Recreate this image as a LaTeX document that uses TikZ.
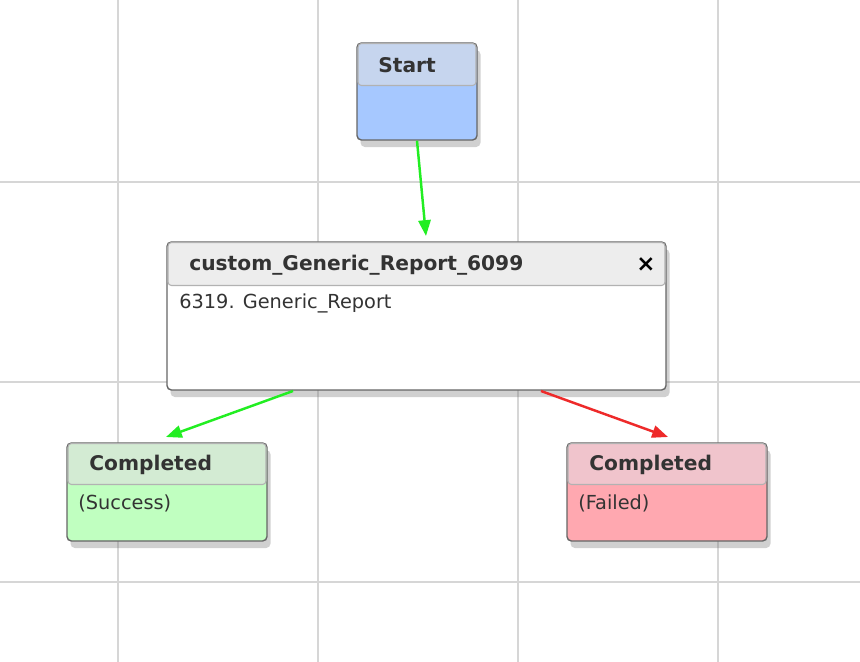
\documentclass[tikz,border=0pt]{standalone}
\usepackage{fontspec}
\setmainfont{DejaVu Sans}
\usetikzlibrary{shadows,positioning,arrows.meta}
\definecolor{gridgray}{HTML}{D6D6D6}
\definecolor{startHd}{HTML}{C6D5EE}
\definecolor{startBd}{HTML}{A6C8FF}
\definecolor{taskHd}{HTML}{EDEDED}
\definecolor{okHd}{HTML}{D3EBD3}
\definecolor{okBd}{HTML}{C0FFC0}
\definecolor{badHd}{HTML}{F0C4CC}
\definecolor{badBd}{HTML}{FFA8B0}
\definecolor{okArrow}{HTML}{22EE22}
\definecolor{badArrow}{HTML}{EE2A2A}
\begin{document}
\begin{tikzpicture}[x=0.02cm,y=-0.02cm,font=\fontsize{11pt}{12pt}\selectfont]
		\tikzset{
			Body/.style	= {draw=gray!80!black, line width=0.8pt, rounded corners=2.5pt, inner sep=0pt,
			               drop shadow={shadow xshift=2pt, shadow yshift=-4pt, opacity=0.3, fill=black!60}},
			Head/.style	= {draw=gray!60, line width=0.6pt, inner sep=0pt, anchor=north, rounded corners=2pt},
			Title/.style	= {anchor=west, inner sep=0pt, font=\fontsize{11.5pt}{12pt}\selectfont\bfseries, text=black!80},
			Label/.style	= {anchor=west, inner sep=0pt, text=black!80},
			Link/.style	= {line width=1.4pt, -{Triangle[length=9pt,width=7pt]}}
		}
		\useasboundingbox (0,0) rectangle (860,662);
		\fill[white] (0,0) rectangle (860,662);
		% grid
		\foreach \gx in {118,318,518,718}
			\draw[gridgray, line width=0.8pt] (\gx,0) -- (\gx,662);
		\foreach \gy in {182,382,582}
			\draw[gridgray, line width=0.8pt] (0,\gy) -- (860,\gy);

		% boxes
		\node (start) at (417,91.5) [Body, fill=startBd, minimum width=120*0.02cm, minimum height=97*0.02cm] {};
		\node (startHead) at ([yshift=-0.4pt]start.north) [Head, fill=startHd, minimum width=118*0.02cm, minimum height=42*0.02cm] {};
		\node at (378,65) [Title] {Start};

		\node (task) at (416.5,316) [Body, fill=white, minimum width=499*0.02cm, minimum height=148*0.02cm] {};
		\node (taskHead) at ([yshift=-0.4pt]task.north) [Head, fill=taskHd, minimum width=497*0.02cm, minimum height=43*0.02cm] {};
		\node at (189,265) [Title] {custom\_Generic\_Report\_6099};
		\node (close) at (646,265) [font=\fontsize{13pt}{13pt}\selectfont\bfseries, inner sep=0pt] {×};
		\node at (179,303) [Label] {6319. Generic\_Report};

		\node (ok) at (167,492) [Body, fill=okBd, minimum width=200*0.02cm, minimum height=98*0.02cm] {};
		\node (okHead) at ([yshift=-0.4pt]ok.north) [Head, fill=okHd, minimum width=198*0.02cm, minimum height=41*0.02cm] {};
		\node at (89,465) [Title] {Completed};
		\node at (78,503) [Label] {(Success)};

		\node (bad) at (667,492) [Body, fill=badBd, minimum width=200*0.02cm, minimum height=98*0.02cm] {};
		\node (badHead) at ([yshift=-0.4pt]bad.north) [Head, fill=badHd, minimum width=198*0.02cm, minimum height=41*0.02cm] {};
		\node at (589,465) [Title] {Completed};
		\node at (578,503) [Label] {(Failed)};

		% connectors
		\coordinate (taskIn) at (426,236);
		\coordinate (okOut) at (293,391);
		\coordinate (okIn) at (166,437);
		\coordinate (badOut) at (541,391);
		\coordinate (badIn) at (668,437);
		\draw [Link, okArrow] (start.south) -- (taskIn);
		\draw [Link, okArrow] (okOut) -- (okIn);
		\draw [Link, badArrow] (badOut) -- (badIn);
\end{tikzpicture}
\end{document}
